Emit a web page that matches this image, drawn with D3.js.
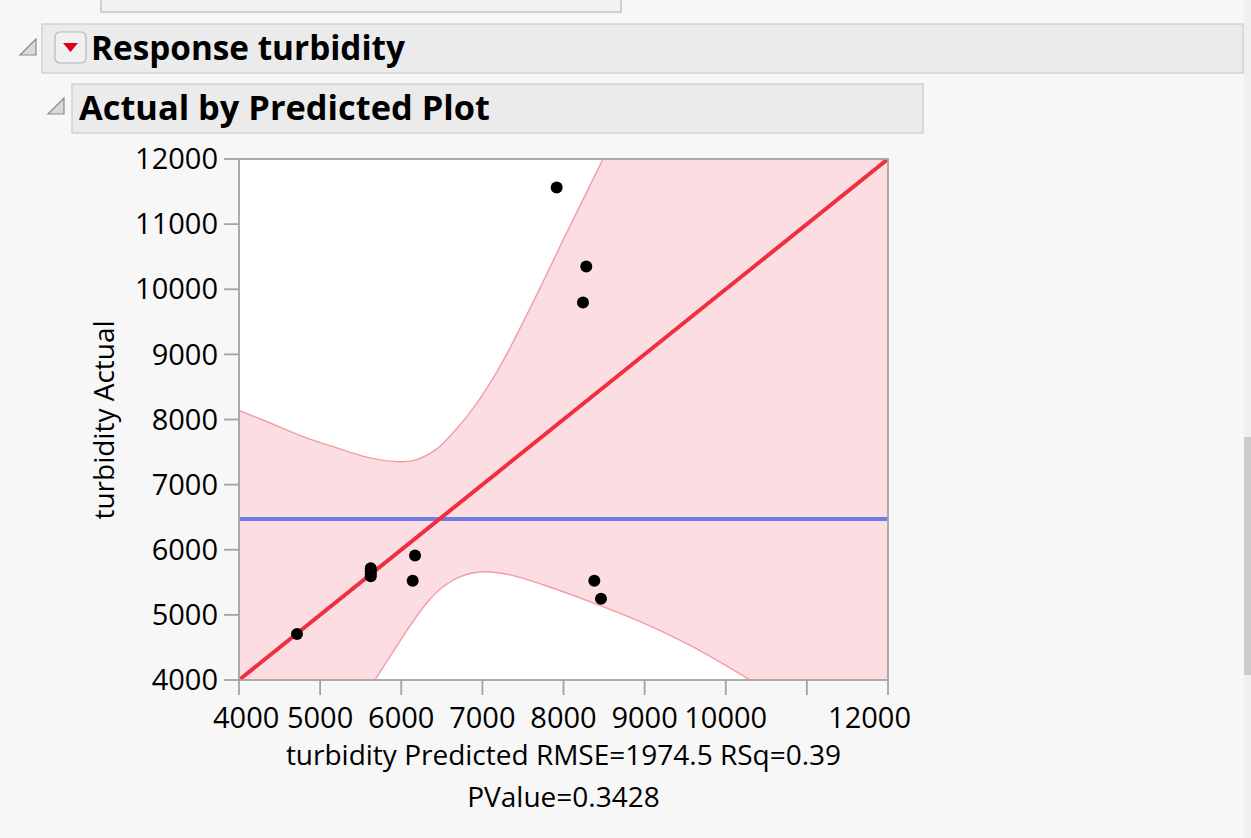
<!DOCTYPE html>
<html>
<head>
<meta charset="utf-8">
<script src="https://cdn.jsdelivr.net/npm/d3@7"></script>
<style>
  body { margin: 0; background: #f7f7f7; }
  svg { display: block; font-family: "Open Sans", "Noto Sans", sans-serif; }
</style>
</head>
<body>
<svg id="chart" width="1251" height="838"></svg>
<script>
// values
const predicted = [7916, 8281, 8240, 4715, 5624, 5624, 5624, 5624, 6170, 6141, 8380, 8462];
const actual = [11564, 10349, 9795, 4708, 5715, 5670, 5630, 5592, 5912, 5523, 5523, 5246];
const meanActual = 6472;
const fitLine = [[4000, 4000], [12000, 12000]];
// confidence curves (predicted, actual)
const upperCurve = [[4000, 8138], [4370, 7954], [4789, 7738], [5196, 7569], [5603, 7415], [5935, 7354],
  [6145, 7369], [6428, 7538], [6675, 7846], [6921, 8231], [7217, 8815], [7624, 9800], [8043, 10877], [8487, 12000]];
const lowerCurve = [[5676, 4000], [5898, 4431], [6108, 4831], [6317, 5185], [6515, 5431], [6724, 5585],
  [7008, 5662], [7340, 5615], [7747, 5462], [8364, 5185], [8980, 4877], [9596, 4508], [10299, 4000]];
const xTicks = [4000, 5000, 6000, 7000, 8000, 9000, 10000, 11000, 12000];
const xTickLabels = ["4000", "5000", "6000", "7000", "8000", "9000", "10000", "", "12000"];
const yTicks = [4000, 5000, 6000, 7000, 8000, 9000, 10000, 11000, 12000];
const yTickLabels = ["4000", "5000", "6000", "7000", "8000", "9000", "10000", "11000", "12000"];

const svg = d3.select("#chart");
const plotLeft = 239, plotRight = 888, plotTop = 159, plotBottom = 680;

const x = d3.scaleLinear().domain([4000, 12000]).range([plotLeft, plotRight]);
const y = d3.scaleLinear().domain([4000, 12000]).range([plotBottom, plotTop]);

// ---- report headers ----
svg.append("rect").attr("x", 101).attr("y", -2).attr("width", 520).attr("height", 14)
  .attr("fill", "#f2f2f2").attr("stroke", "#c4c4c4").attr("stroke-width", 1.5);

svg.append("rect").attr("x", 42).attr("y", 24).attr("width", 1201).attr("height", 49)
  .attr("fill", "#ebebeb").attr("stroke", "#d2d2d2").attr("stroke-width", 1.5);
svg.append("rect").attr("x", 72).attr("y", 84).attr("width", 851).attr("height", 49)
  .attr("fill", "#ebebeb").attr("stroke", "#d2d2d2").attr("stroke-width", 1.5);

// disclosure triangles
function disclosure(cx, cy) {
  svg.append("path")
    .attr("d", `M${cx - 8},${cy + 8} L${cx + 8},${cy + 8} L${cx + 8},${cy - 8} Z`)
    .attr("fill", "#d9d9d9").attr("stroke", "#8a8a8a").attr("stroke-width", 1.2);
}
disclosure(28, 47);
disclosure(56, 106);

// red popup button
svg.append("rect").attr("x", 55).attr("y", 32).attr("width", 31).attr("height", 31).attr("rx", 5)
  .attr("fill", "#f0f0f0").attr("stroke", "#b5b5b5").attr("stroke-width", 1.2);
svg.append("path").attr("d", "M63,43 L78,43 L70.5,52 Z").attr("fill", "#d9001b");

svg.append("text").attr("x", 91).attr("y", 60)
  .attr("font-size", 34).attr("font-weight", "bold").attr("fill", "#000")
  .attr("textLength", 314).attr("lengthAdjust", "spacingAndGlyphs")
  .text("Response turbidity");
svg.append("text").attr("x", 79).attr("y", 120)
  .attr("font-size", 34).attr("font-weight", "bold").attr("fill", "#000")
  .attr("textLength", 411).attr("lengthAdjust", "spacingAndGlyphs")
  .text("Actual by Predicted Plot");

// scrollbar
svg.append("rect").attr("x", 1244).attr("y", 0).attr("width", 7).attr("height", 838).attr("fill", "#f0f0f0");
svg.append("rect").attr("x", 1244).attr("y", 437).attr("width", 7).attr("height", 238).attr("fill", "#cbcbcb");

// ---- plot ----
svg.append("defs").append("clipPath").attr("id", "plotClip")
  .append("rect").attr("x", plotLeft).attr("y", plotTop)
  .attr("width", plotRight - plotLeft).attr("height", plotBottom - plotTop);

const plot = svg.append("g").attr("clip-path", "url(#plotClip)");

plot.append("rect").attr("x", plotLeft).attr("y", plotTop)
  .attr("width", plotRight - plotLeft).attr("height", plotBottom - plotTop)
  .attr("fill", "#fcdde2");

const curveLine = d3.line().x(d => x(d[0])).y(d => y(d[1])).curve(d3.curveCatmullRom.alpha(0.5));

// white region above upper curve
plot.append("path")
  .attr("d", curveLine(upperCurve) + `L${x(4000)},${y(12000)}Z`)
  .attr("fill", "#ffffff");
// white region below lower curve
plot.append("path")
  .attr("d", curveLine(lowerCurve) + "Z")
  .attr("fill", "#ffffff");

[upperCurve, lowerCurve].forEach(c => {
  plot.append("path").attr("d", curveLine(c))
    .attr("fill", "none").attr("stroke", "#f59ba6").attr("stroke-width", 1.4);
});

// mean line
plot.append("line")
  .attr("x1", x(4000)).attr("x2", x(12000))
  .attr("y1", y(meanActual)).attr("y2", y(meanActual))
  .attr("stroke", "#6f7ce3").attr("stroke-width", 4);

// fit line
plot.append("path")
  .attr("d", d3.line().x(d => x(d[0])).y(d => y(d[1]))(fitLine))
  .attr("fill", "none").attr("stroke", "#ef2f40").attr("stroke-width", 4);

// points
svg.append("g").selectAll("circle")
  .data(predicted.map((p, i) => [p, actual[i]]))
  .enter().append("circle")
  .attr("cx", d => x(d[0])).attr("cy", d => y(d[1])).attr("r", 6)
  .attr("fill", "#000");

// frame
svg.append("rect").attr("x", plotLeft).attr("y", plotTop)
  .attr("width", plotRight - plotLeft).attr("height", plotBottom - plotTop)
  .attr("fill", "none").attr("stroke", "#a3a3a3").attr("stroke-width", 1.8);

// ---- axes ----
const axisColor = "#a3a3a3";
const xAxis = svg.append("g");
xAxis.selectAll("line").data(xTicks).enter().append("line")
  .attr("x1", d => x(d)).attr("x2", d => x(d)).attr("y1", plotBottom).attr("y2", plotBottom + 15)
  .attr("stroke", axisColor).attr("stroke-width", 1.8);
xAxis.selectAll("text").data(xTicks).enter().append("text")
  .attr("y", 728).attr("font-size", 29).attr("fill", "#000")
  .text((d, i) => xTickLabels[i])
  .attr("text-anchor", "middle")
  .attr("x", function (d) {
    const w = this.getComputedTextLength();
    // keep labels inside the frame area the way the reference does
    return Math.max(213 + w / 2, Math.min(911 - w / 2, x(d)));
  });

const yAxis = svg.append("g");
yAxis.selectAll("line").data(yTicks).enter().append("line")
  .attr("x1", plotLeft - 15).attr("x2", plotLeft).attr("y1", d => y(d)).attr("y2", d => y(d))
  .attr("stroke", axisColor).attr("stroke-width", 1.8);
yAxis.selectAll("text").data(yTicks).enter().append("text")
  .attr("x", 218).attr("y", d => y(d)).attr("dy", "0.35em")
  .attr("text-anchor", "end").attr("font-size", 29).attr("fill", "#000")
  .text((d, i) => yTickLabels[i]);

// axis titles
svg.append("text").attr("x", (plotLeft + plotRight) / 2).attr("y", 765)
  .attr("text-anchor", "middle").attr("font-size", 28).attr("fill", "#000")
  .text("turbidity Predicted RMSE=1974.5 RSq=0.39");
svg.append("text").attr("x", (plotLeft + plotRight) / 2).attr("y", 807)
  .attr("text-anchor", "middle").attr("font-size", 28).attr("fill", "#000")
  .text("PValue=0.3428");
svg.append("text")
  .attr("transform", "translate(114,420) rotate(-90)")
  .attr("text-anchor", "middle").attr("font-size", 28).attr("fill", "#000")
  .text("turbidity Actual");
</script>
</body>
</html>
